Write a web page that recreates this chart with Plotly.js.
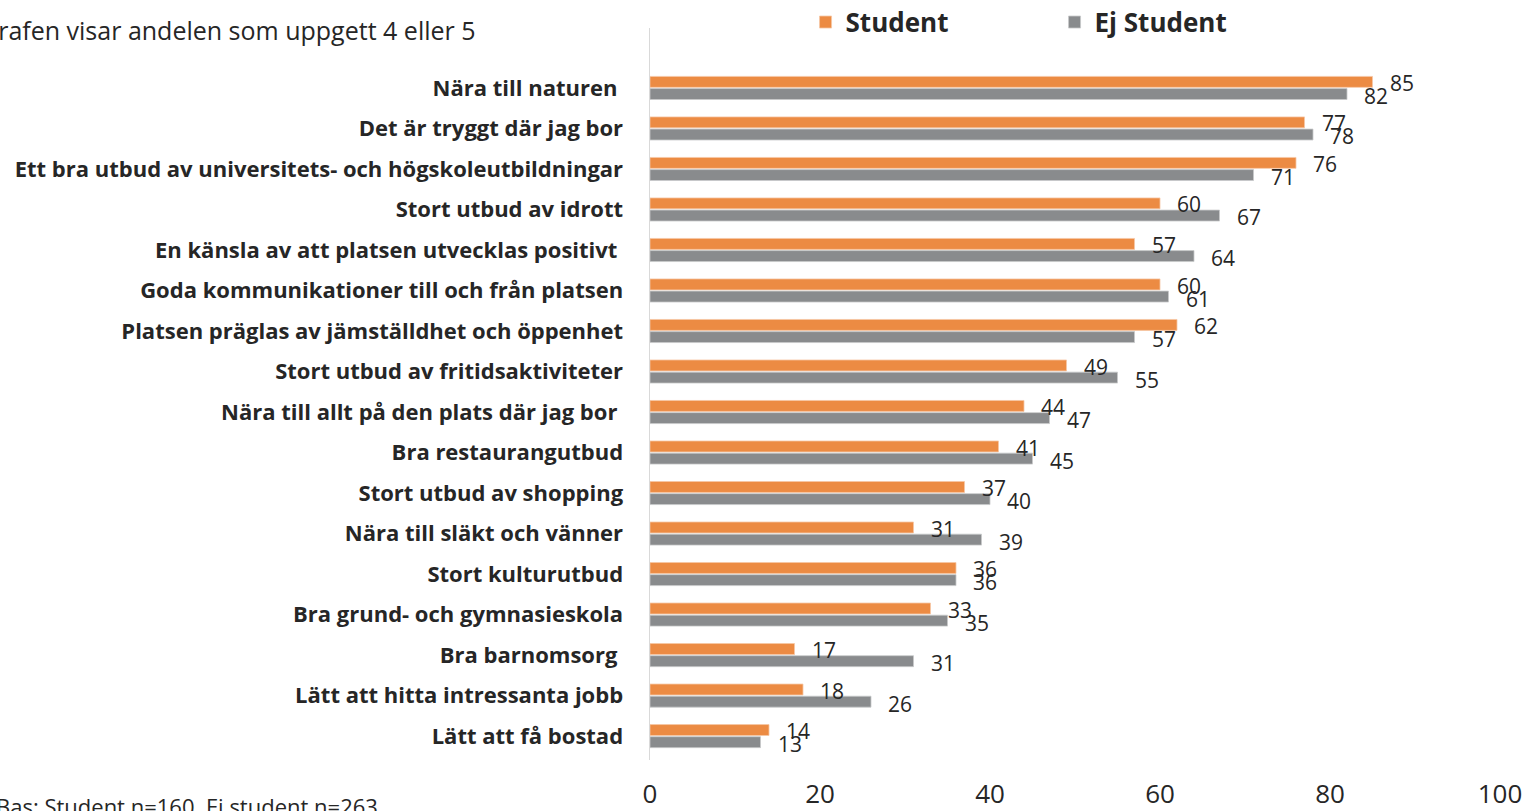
<!DOCTYPE html>
<html>
<head>
<meta charset="utf-8">
<script src="https://cdn.plot.ly/plotly-3.0.1.min.js"></script>
<style>
html,body{margin:0;padding:0;background:#fff;}
#chart{width:1529px;height:811px;}
</style>
</head>
<body>
<div id="chart"></div>
<script>
const categories = [
  "Nära till naturen\u00a0",
  "Det är tryggt där jag bor",
  "Ett bra utbud av universitets- och högskoleutbildningar",
  "Stort utbud av idrott",
  "En känsla av att platsen utvecklas positivt\u00a0",
  "Goda kommunikationer till och från platsen",
  "Platsen präglas av jämställdhet och öppenhet",
  "Stort utbud av fritidsaktiviteter",
  "Nära till allt på den plats där jag bor\u00a0",
  "Bra restaurangutbud",
  "Stort utbud av shopping",
  "Nära till släkt och vänner",
  "Stort kulturutbud",
  "Bra grund- och gymnasieskola",
  "Bra barnomsorg\u00a0",
  "Lätt att hitta intressanta jobb",
  "Lätt att få bostad"
];
const student = [85, 77, 76, 60, 57, 60, 62, 49, 44, 41, 37, 31, 36, 33, 17, 18, 14];
const ejStudent = [82, 78, 71, 67, 64, 61, 57, 55, 47, 45, 40, 39, 36, 35, 31, 26, 13];
const seriesNames = ["Student", "Ej Student"];
const xTicks = [0, 20, 40, 60, 80, 100];
const subtitle = "Grafen visar andelen som uppgett 4 eller 5";
const baseNote = "Bas: Student n=160, Ej student n=263";

const orange = "#EC8B43";
const grey = "#898B8D";
const numFont = {family: "Open Sans, sans-serif", size: 21, color: "#262626"};

const traces = [
  {type: "bar", orientation: "h", name: seriesNames[0], y: categories, x: student,
   marker: {color: orange, line: {color: "#F6C7A4", width: 0.8}}, hoverinfo: "x"},
  {type: "bar", orientation: "h", name: seriesNames[1], y: categories, x: ejStudent,
   marker: {color: grey, line: {color: "#C8C9CA", width: 0.8}}, hoverinfo: "x"}
];

const annotations = [];
categories.forEach((c, i) => {
  annotations.push({x: student[i], y: c, xref: "x", yref: "y", text: String(student[i]),
    showarrow: false, xanchor: "left", yanchor: "middle", xshift: 15, yshift: 5, font: numFont});
  annotations.push({x: ejStudent[i], y: c, xref: "x", yref: "y", text: String(ejStudent[i]),
    showarrow: false, xanchor: "left", yanchor: "middle", xshift: 15, yshift: -8, font: numFont});
});
annotations.push({x: -0.2024, y: 0.997, xref: "paper", yref: "paper", text: subtitle,
  showarrow: false, xanchor: "right", yanchor: "middle",
  font: {family: "Open Sans, sans-serif", size: 25, color: "#262626"}});
annotations.push({x: -0.3176, y: -0.0635, xref: "paper", yref: "paper", text: baseNote,
  showarrow: false, xanchor: "right", yanchor: "middle",
  font: {family: "Open Sans, sans-serif", size: 22, color: "#262626"}});

const layout = {
  width: 1529, height: 811,
  margin: {l: 650, r: 29, t: 28, b: 51, autoexpand: false},
  paper_bgcolor: "#ffffff", plot_bgcolor: "#ffffff",
  barmode: "group", bargap: 0.4, bargroupgap: 0.1,
  showlegend: true,
  legend: {orientation: "h", x: 0.183, y: 1.008, xanchor: "left", yanchor: "middle",
    entrywidth: 204, entrywidthmode: "pixels", traceorder: "normal",
    font: {family: "Open Sans, sans-serif", size: 26, color: "#262626", weight: "bold"}},
  xaxis: {range: [0, 100], tickvals: xTicks, ticktext: xTicks.map(String),
    showgrid: false, zeroline: false, showline: false, ticks: "",
    ticklabelstandoff: 16,
    tickfont: {family: "Open Sans, sans-serif", size: 26, color: "#262626"}, fixedrange: true},
  yaxis: {type: "category", range: [16.59, -1.48], showgrid: false, zeroline: false,
    showline: true, linecolor: "#D9D9D9", linewidth: 1.5, ticks: "",
    ticklabelstandoff: 21,
    tickfont: {family: "Open Sans, sans-serif", size: 22, color: "#262626", weight: "bold"},
    fixedrange: true},
  annotations: annotations
};

Plotly.newPlot("chart", traces, layout, {displayModeBar: false, staticPlot: true});
</script>
</body>
</html>
